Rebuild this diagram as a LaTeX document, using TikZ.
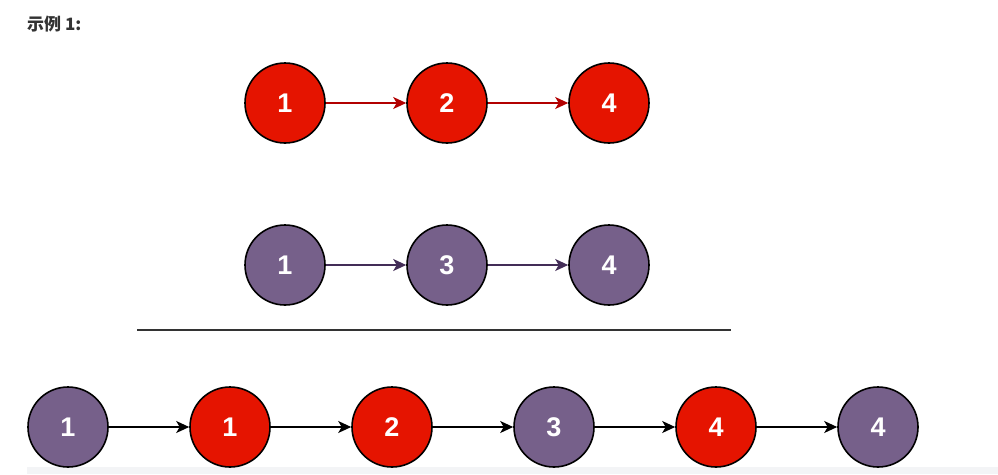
\documentclass[tikz,border=0pt]{standalone}
\usepackage{fontspec}
\setmainfont{Liberation Sans}
\newfontfamily\cjk{Noto Sans CJK SC}
\usetikzlibrary{arrows.meta}
\definecolor{nred}{HTML}{E51400}
\definecolor{npurple}{HTML}{76608A}
\definecolor{ered}{HTML}{B20000}
\definecolor{epurple}{HTML}{432D57}
\definecolor{titlec}{HTML}{333333}
\definecolor{stripc}{HTML}{F3F4F6}
\begin{document}
\begin{tikzpicture}[x=1pt,y=-1pt,
  lnode/.style={circle,draw=black,line width=1.6pt,minimum size=80pt,inner sep=0pt,
    text=white,font=\fontsize{27}{27}\selectfont\bfseries},
  rn/.style={lnode,fill=nred},
  pn/.style={lnode,fill=npurple},
  link/.style={line width=1.4pt,-{Stealth[length=13pt,width=12pt,inset=3.5pt]}}]
\useasboundingbox (0,0) rectangle (998,474);
\fill[stripc] (27,467) rectangle (998,474);
\node[anchor=west,inner sep=0pt,text=titlec,font=\cjk\fontsize{17}{17}\selectfont\bfseries] (title) at (27,24) {示例 1:};
% top row
\node[rn] (a1) at (285,103) {1};
\node[rn] (a2) at (447,103) {2};
\node[rn] (a3) at (609,103) {4};
\draw[link,ered] (a1) -- (a2);
\draw[link,ered] (a2) -- (a3);
% middle row
\node[pn] (b1) at (285,265) {1};
\node[pn] (b2) at (447,265) {3};
\node[pn] (b3) at (609,265) {4};
\draw[link,epurple] (b1) -- (b2);
\draw[link,epurple] (b2) -- (b3);
% separator
\coordinate (s1) at (137,330);
\coordinate (s2) at (731,330);
\draw[line width=2pt,black!80] (s1) -- (s2);
% bottom row
\node[pn] (c1) at (68,427) {1};
\node[rn] (c2) at (230,427) {1};
\node[rn] (c3) at (392,427) {2};
\node[pn] (c4) at (554,427) {3};
\node[rn] (c5) at (716,427) {4};
\node[pn] (c6) at (878,427) {4};
\draw[link,black] (c1) -- (c2);
\draw[link,black] (c2) -- (c3);
\draw[link,black] (c3) -- (c4);
\draw[link,black] (c4) -- (c5);
\draw[link,black] (c5) -- (c6);
\end{tikzpicture}
\end{document}
